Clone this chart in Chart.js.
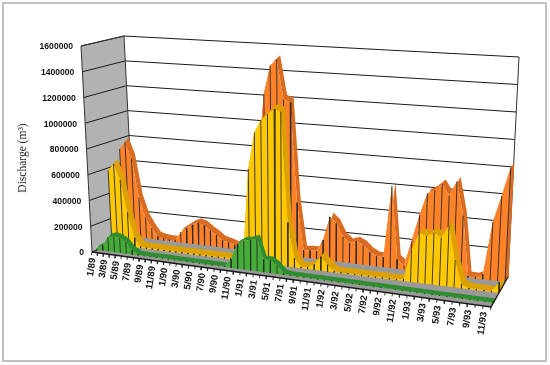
<!DOCTYPE html>
<html>
<head>
<meta charset="utf-8">
<style>
  html, body { margin: 0; padding: 0; background: #fff; }
  #box { position: absolute; left: 2px; top: 2px; width: 541px; height: 356px; border: 2px solid #c0c0c0; }
  canvas { position: absolute; left: 0; top: 0; }
</style>
<script src="https://cdn.jsdelivr.net/npm/chart.js@4/dist/chart.umd.js"></script>
</head>
<body>
<div id="box"></div>
<canvas id="chart" width="550" height="365"></canvas>
<script>
const tickLabels = ['1/89','3/89','5/89','7/89','9/89','11/89','1/90','3/90','5/90','7/90','9/90','11/90',
  '1/91','3/91','5/91','7/91','9/91','11/91','1/92','3/92','5/92','7/92','9/92','11/92',
  '1/93','3/93','5/93','7/93','9/93','11/93'];
const yTicks = [0, 200000, 400000, 600000, 800000, 1000000, 1200000, 1400000, 1600000];

const orangeValues = [690000,750000,625000,315000,165000,85000,25000,15000,10000,10000,
  80000,115000,150000,170000,155000,120000,90000,55000,45000,30000,20000,15000,25000,700000,
  1220000,1440000,1490000,1190000,1170000,410000,55000,60000,60000,150000,330000,285000,
  190000,150000,170000,145000,100000,75000,75000,610000,70000,30000,
  220000,415000,580000,610000,660000,580000,690000,445000,10000,8000,35000,420000,615000,825000];
const yellowValues = [585000,640000,520000,270000,75000,15000,8000,8000,8000,8000,
  8000,8000,8000,8000,8000,8000,8000,8000,8000,8000,8000,8000,15000,705000,
  985000,1085000,1135000,1175000,1160000,330000,70000,8000,15000,40000,105000,50000,
  8000,6000,6000,6000,6000,6000,6000,6000,6000,6000,
  15000,236000,366000,346000,376000,346000,441000,196000,28000,8000,8000,8000,8000,78000];
const greenValues = [10000,40000,110000,125000,115000,90000,35000,8000,4000,4000,
  4000,4000,4000,4000,4000,4000,4000,4000,4000,4000,4000,4000,65000,185000,
  215000,225000,245000,95000,95000,65000,12000,4000,4000,4000,4000,4000,
  4000,4000,4000,4000,4000,4000,4000,4000,4000,4000,
  4000,4000,4000,4000,4000,4000,4000,4000,4000,4000,4000,4000,4000,4000];

const monthCount = 60;
const maxValue = 1600000;

// corners of the 3D box as seen in the picture
const FLB = [92, 252], FRB = [491, 307], BLB = [134, 235], BRB = [508, 277];
const FLT = [81, 46], FRT = [503, 78], BLT = [124, 36], BRT = [519, 57];

const warp = 1.16;

function mix(a, b, t) { return a + (b - a) * t; }

function warpU(m) {
  const t = m / (monthCount - 1);
  return t / (t + warp * (1 - t));
}

function project(m, v, d) {
  const u = warpU(m);
  const h = v / maxValue;
  const at = (i) => {
    const bottom = mix(mix(FLB[i], FRB[i], u), mix(BLB[i], BRB[i], u), d);
    const top = mix(mix(FLT[i], FRT[i], u), mix(BLT[i], BRT[i], u), d);
    return mix(bottom, top, h);
  };
  return { x: at(0), y: at(1) };
}

const gap = { x: null, y: null };
const datasets = [];

function addShape(points, fillColor) {
  datasets.push({
    data: points, showLine: true, fill: 'shape', backgroundColor: fillColor,
    borderWidth: 0, pointRadius: 0, clip: false, tension: 0,
  });
}

function addLines(points, color, width) {
  datasets.push({
    data: points, showLine: true, fill: false, borderColor: color,
    borderWidth: width, pointRadius: 0, clip: false, tension: 0, spanGaps: false,
  });
}

// walls and floor
addShape([project(0, 0, 0), project(0, maxValue, 0), project(0, maxValue, 1), project(0, 0, 1)], '#b2b2b2');
addShape([project(0, 0, 0), project(59, 0, 0), project(59, 0, 1), project(0, 0, 1)], '#999999');

const gridLines = [];
yTicks.forEach((v) => {
  gridLines.push(project(0, v, 0), project(0, v, 1), project(59, v, 1), gap);
});
addLines(gridLines, '#1a1a1a', 1);
addLines([project(0, 0, 0), project(0, maxValue, 0), project(0, maxValue, 1), project(0, 0, 1), project(0, 0, 0), gap,
  project(59, 0, 1), project(59, maxValue, 1)], '#333333', 1);

// each ribbon stands on its own base line on the floor
function addSeries(values, baseLeft, baseRight, depth, backShift, faceColor, ridgeColor) {
  const base = values.map((v, m) => {
    const u = warpU(m);
    return { x: mix(baseLeft[0], baseRight[0], u), y: mix(baseLeft[1], baseRight[1], u) };
  });
  const front = values.map((v, m) => {
    const p0 = project(m, 0, depth);
    const p1 = project(m, v, depth);
    return { x: base[m].x + p1.x - p0.x, y: base[m].y + p1.y - p0.y };
  });
  const shift = (p) => ({ x: p.x + backShift[0], y: p.y + backShift[1] });
  const back = front.map(shift);
  const last = monthCount - 1;
  addShape([front[last], back[last], shift(base[last]), base[last]], ridgeColor);
  addShape(front.concat(back.slice().reverse()), ridgeColor);
  addShape(front.concat(base.slice().reverse()), faceColor);
  const drops = [];
  values.forEach((v, m) => { drops.push(front[m], base[m], gap); });
  addLines(drops, '#2a2a2a', 0.9);
}

addSeries(orangeValues, [124, 235.5], [505, 282], 0.8, [3.5, -4.5], '#ff8228', '#d96c20');
addSeries(yellowValues, [112, 244.5], [499, 293], 0.45, [4, -5], '#ffc800', '#dca000');
addSeries(greenValues, [97, 249.8], [493, 303], 0.1, [3, -3.8], '#44ad38', '#2f8c30');

// floor edges and month ticks
const ticks = [];
for (let m = 0; m < monthCount; m++) {
  const p = project(m, 0, 0);
  ticks.push(p, { x: p.x - 0.5, y: p.y + 3 }, gap);
}
addLines(ticks, '#333333', 1);
addLines([project(0, 0, 0), project(59, 0, 0), project(59, 0, 1)], '#1a1a1a', 1.3);

datasets.forEach((ds, i) => { ds.order = -i; });

const axisText = {
  id: 'axisText',
  afterDraw(chart) {
    const ctx = chart.ctx;
    ctx.save();
    ctx.fillStyle = '#111';
    ctx.font = 'bold 8.6px "Liberation Sans", Arial, sans-serif';
    ctx.textAlign = 'right';
    ctx.textBaseline = 'middle';
    yTicks.forEach((v) => {
      const p = project(0, v, 0);
      ctx.fillText(String(v), p.x - 8, p.y + 1);
    });
    ctx.font = 'bold 9.5px "Liberation Sans", Arial, sans-serif';
    tickLabels.forEach((label, i) => {
      const p = project(i * 2, 0, 0);
      ctx.save();
      ctx.translate(p.x + 1, p.y + 6);
      ctx.rotate(-82 * Math.PI / 180);
      ctx.fillText(label, 0, 0);
      ctx.restore();
    });
    ctx.fillStyle = '#222';
    ctx.font = '11.5px "Liberation Serif", "Times New Roman", serif';
    ctx.textAlign = 'center';
    ctx.save();
    ctx.translate(23, 158);
    ctx.rotate(-Math.PI / 2);
    ctx.fillText('Discharge (m\u00B3)', 0, 0);
    ctx.restore();
    ctx.restore();
  },
};

new Chart(document.getElementById('chart'), {
  type: 'scatter',
  plugins: [axisText],
  data: { datasets: datasets },
  options: {
    responsive: false,
    animation: false,
    layout: { padding: 0 },
    plugins: { legend: { display: false }, tooltip: { enabled: false } },
    scales: {
      x: { type: 'linear', min: 0, max: 550, display: false },
      y: { type: 'linear', min: 0, max: 365, reverse: true, display: false },
    },
  },
});
</script>
</body>
</html>
